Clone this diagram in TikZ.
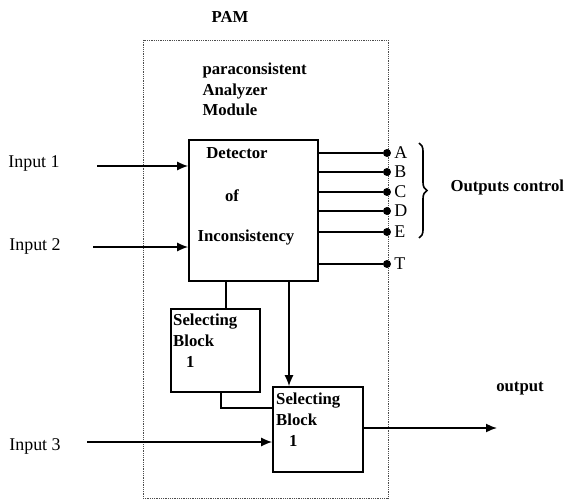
\documentclass[tikz,border=0pt]{standalone}
\usepackage{fontspec}
\setmainfont{Liberation Serif}
\usetikzlibrary{arrows.meta,calc,positioning,decorations.pathreplacing}

\begin{document}
\begin{tikzpicture}[x=1bp, y=-1bp,
    every node/.style={font=\fontsize{16.8}{21}\selectfont\bfseries},
    plain/.style={font=\fontsize{18}{21}\selectfont},
    block/.style={draw, line width=1.6bp, inner sep=0pt},
    wire/.style={line width=1.6bp},
    sig/.style={wire, -{Latex[length=11bp, width=9bp]}},
    dot/.style={circle, fill, inner sep=0pt, minimum size=8bp}]
  \useasboundingbox (0,0) rectangle (567,500);

  % the module frame
  \draw[densely dotted, line width=0.8bp, black!70] (143,40) rectangle (388,498);
  \node (pam) at (230,17) {PAM};
  \node[anchor=north west, align=left] (title) at (199,59) {paraconsistent\\Analyzer\\Module};

  % blocks
  \node[block, minimum width=129bp, minimum height=141bp] (det) at (253.5,210.5) {};
  \node[block, minimum width=89bp, minimum height=83bp] (sel1) at (215.5,350.5) {};
  \node[block, minimum width=90bp, minimum height=85bp] (sel2) at (318,429.5) {};

  % block texts
  \node (detA) at (237,153) {Detector};
  \node (detB) at (232,196) {of};
  \node (detC) at (246,237) {Inconsistency};
  \node[anchor=north west, align=left, inner sep=0pt] (selA) at (173,314) {Selecting\\Block\\\hspace{13bp}1};
  \node[anchor=north west, align=left, inner sep=0pt] (selB) at (276,393) {Selecting\\Block\\\hspace{13bp}1};

  % inputs
  \node[plain] (in1) at (34,163) {Input 1};
  \node[plain] (in2) at (35,246) {Input 2};
  \node[plain] (in3) at (35,446) {Input 3};
  \coordinate (in1s) at (97,166);
  \coordinate (in2s) at (93,247);
  \coordinate (in3s) at (87,442);
  \draw[sig] (in1s) -- (in1s -| det.west);
  \draw[sig] (in2s) -- (in2s -| det.west);
  \draw[sig] (in3s) -- (in3s -| sel2.west);

  % output points of the detector
  \foreach \n/\yy in {A/153,B/172,C/192,D/211,E/232,T/264}{
    \node[dot] (o\n) at (387,\yy) {};
    \draw[wire] (det.east |- o\n) -- (o\n);
    \node[plain, right=2bp of o\n, inner sep=1bp] {\n};
  }
  \draw[decorate, decoration={brace, amplitude=8bp}, line width=1.6bp] (419,143) -- (419,238);
  \node[anchor=west] (ctl) at (447,187) {Outputs control};

  % links between the blocks
  \coordinate (k1) at (226,0);
  \coordinate (k2) at (289,0);
  \coordinate (j1) at (221,408);
  \draw[wire] (k1 |- det.south) -- (k1 |- sel1.north);
  \draw[sig] (k2 |- det.south) -- (k2 |- sel2.north);
  \draw[wire] (j1 |- sel1.south) -- (j1) -- (j1 -| sel2.west);

  % output
  \coordinate (outend) at (497,428);
  \draw[sig] (outend -| sel2.east) -- (outend);
  \node (out) at (520,389) {output};
\end{tikzpicture}
\end{document}
